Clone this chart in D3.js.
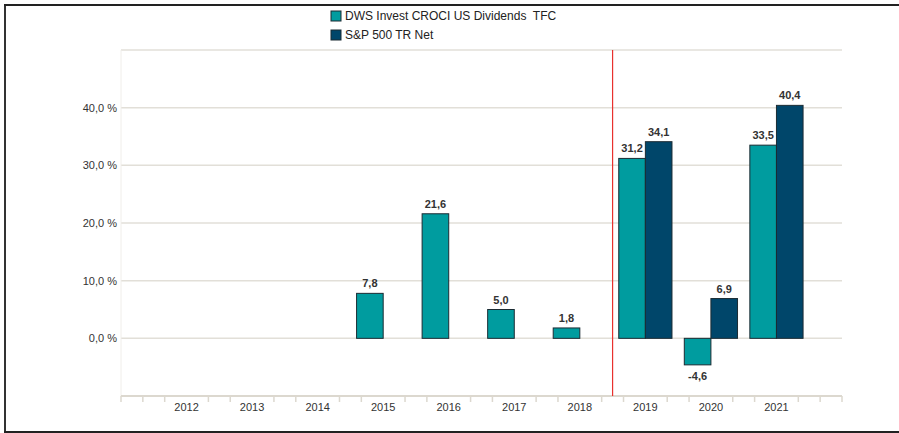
<!DOCTYPE html>
<html>
<head>
<meta charset="utf-8">
<script src="https://cdn.jsdelivr.net/npm/d3@7"></script>
<style>
  html, body { margin: 0; padding: 0; background: #fff; }
  svg { display: block; font-family: "Liberation Sans", Arial, sans-serif; }
</style>
</head>
<body>
<svg id="chart" width="899" height="433"></svg>
<script>
const categories = ["2012","2013","2014","2015","2016","2017","2018","2019","2020","2021"];
const seriesNames = ["DWS Invest CROCI US Dividends  TFC", "S&P 500 TR Net"];
const fundValues = [null, null, null, 7.8, 21.6, 5.0, 1.8, 31.2, -4.6, 33.5];
const indexValues = [null, null, null, null, null, null, null, 34.1, 6.9, 40.4];
const yTicks = [0, 10, 20, 30, 40];
const yGrid = [0, 10, 20, 30, 40, 50];
const colors = ["#009c9f", "#00466a"];
const markerAfter = "2018";

(function () {
const svg = d3.select("#chart");
const pL = 121, pR = 842, pT = 50, pB = 396;

const x = d3.scaleBand().domain(categories).range([pL, pR]).paddingInner(0).paddingOuter(0.5);
const y = d3.scaleLinear().domain([-10, 50]).range([pB, pT]);
const step = x.step();
const barW = step * 0.406;

// frame
svg.append("line").attr("x1", 5).attr("x2", 5).attr("y1", 4).attr("y2", 432).attr("stroke", "#333").attr("stroke-width", 2);
svg.append("line").attr("x1", 4).attr("x2", 899).attr("y1", 5).attr("y2", 5).attr("stroke", "#222").attr("stroke-width", 2);
svg.append("line").attr("x1", 4).attr("x2", 899).attr("y1", 432).attr("y2", 432).attr("stroke", "#222").attr("stroke-width", 2);

// gridlines
svg.append("g").selectAll("line").data(yGrid).join("line")
  .attr("x1", pL).attr("x2", pR)
  .attr("y1", d => y(d)).attr("y2", d => y(d))
  .attr("stroke", "#e2dfd8").attr("stroke-width", 1.5);

// left faint axis line
svg.append("line").attr("x1", pL).attr("x2", pL).attr("y1", pT).attr("y2", pB)
  .attr("stroke", "#f0eeea").attr("stroke-width", 1);

// y labels
svg.append("g").selectAll("text").data(yTicks).join("text")
  .attr("x", 117).attr("y", d => y(d)).attr("dy", "0.35em")
  .attr("text-anchor", "end").attr("font-size", 11).attr("fill", "#333")
  .text(d => d3.format(".1f")(d).replace(".", ",") + " %");

// x axis line
svg.append("line").attr("x1", pL).attr("x2", pR).attr("y1", pB).attr("y2", pB)
  .attr("stroke", "#dcd8cf").attr("stroke-width", 2);

// minor ticks
const nT = categories.length * 3 + 3;
const tickIdx = d3.range(0, nT + 1).filter(i => i === 0 || i === nT || i % 3 !== 0);
svg.append("g").selectAll("line").data(tickIdx).join("line")
  .attr("x1", i => pL + i * step / 3).attr("x2", i => pL + i * step / 3)
  .attr("y1", pB).attr("y2", pB + 6)
  .attr("stroke", "#dcd8cf").attr("stroke-width", 1.5);

// x labels
svg.append("g").selectAll("text").data(categories).join("text")
  .attr("x", d => x(d) + x.bandwidth() / 2).attr("y", pB + 11).attr("dy", "0.35em")
  .attr("text-anchor", "middle").attr("font-size", 11).attr("fill", "#333")
  .text(d => d);

// bars
const fmt = v => d3.format(".1f")(v).replace(".", ",").replace("−", "-");
function drawSeries(vals, si) {
  const data = categories.map((c, i) => ({c, v: vals[i]})).filter(d => d.v !== null);
  const g = svg.append("g");
  const bx = d => {
    const cx = x(d.c) + x.bandwidth() / 2;
    return si === 0 ? cx - barW : cx;
  };
  g.selectAll("rect").data(data).join("rect")
    .attr("x", bx)
    .attr("y", d => y(Math.max(0, d.v)))
    .attr("width", barW)
    .attr("height", d => Math.abs(y(d.v) - y(0)))
    .attr("fill", colors[si]).attr("stroke", "#1b2b33").attr("stroke-width", 1);
  g.selectAll("text").data(data).join("text")
    .attr("x", d => bx(d) + barW / 2)
    .attr("y", d => d.v >= 0 ? y(d.v) - 6 : y(d.v) + 15)
    .attr("text-anchor", "middle").attr("font-size", 11).attr("font-weight", "bold").attr("fill", "#333")
    .text(d => fmt(d.v));
}
drawSeries(fundValues, 0);
drawSeries(indexValues, 1);

// red marker line
const mx = x(markerAfter) + x.bandwidth();
svg.append("line").attr("x1", mx).attr("x2", mx).attr("y1", pT).attr("y2", pB)
  .attr("stroke", "#e8312e").attr("stroke-width", 1.2);

// legend
const lg = svg.append("g");
seriesNames.forEach((n, i) => {
  lg.append("rect").attr("x", 331).attr("y", 11 + i * 19).attr("width", 10).attr("height", 10)
    .attr("fill", colors[i]).attr("stroke", "#1b2b33").attr("stroke-width", 1);
  lg.append("text").attr("x", 345).attr("y", 16 + i * 19).attr("dy", "0.35em")
    .attr("font-size", 12).attr("fill", "#222").style("white-space", "pre")
    .text(n);
});
})();
</script>
</body>
</html>
